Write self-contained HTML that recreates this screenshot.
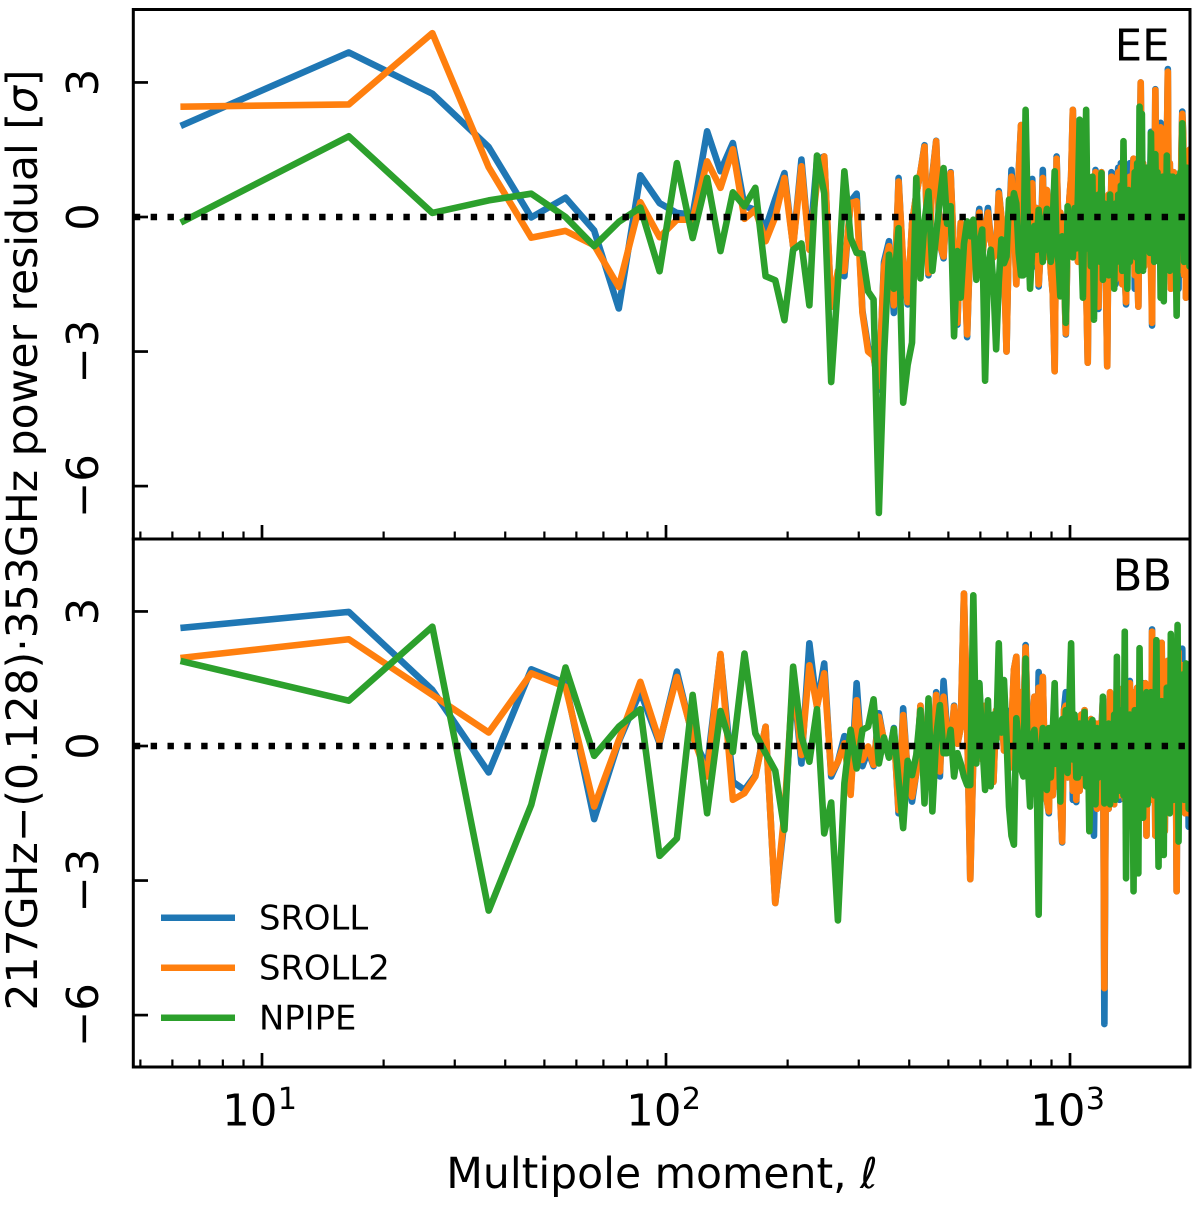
<!DOCTYPE html>
<html lang="en">
<head>
<meta charset="utf-8">
<title>217GHz power residual, EE and BB</title>
<style>
html,body{margin:0;padding:0;background:#fff;}
svg{display:block;font-family:"DejaVu Sans","Liberation Sans",sans-serif;}
</style>
</head>
<body>
<svg id="chart" xmlns="http://www.w3.org/2000/svg" width="1200" height="1212" viewBox="0 0 1200 1212">
<defs>
<clipPath id="clip-ee"><rect x="133" y="9" width="1057" height="530"/></clipPath>
<clipPath id="clip-bb"><rect x="133" y="539" width="1057" height="528"/></clipPath>
</defs>
<rect x="0" y="0" width="1200" height="1212" fill="#fff"/>
<g id="plot-ee"></g>
<g id="plot-bb"></g>
<g id="ticks"></g>
<g fill="none" stroke="#000" stroke-width="3">
<rect x="133.3" y="9.5" width="1056.7" height="529.5"/>
<rect x="133.3" y="539" width="1056.7" height="528"/>
</g>
<text x="1169.5" y="60.7" text-anchor="end" font-size="43.3">EE</text>
<text x="1172" y="590.7" text-anchor="end" font-size="43.3">BB</text>
<text transform="translate(37,540) rotate(-90)" text-anchor="middle" font-size="42.5">217GHz−(0.128)·353GHz power residual [<tspan font-style="italic">σ</tspan>]</text>
<text x="662" y="1188" text-anchor="middle" font-size="42.5">Multipole moment, <tspan font-style="italic">ℓ</tspan></text>
<g>
<line x1="161" x2="235" y1="917.7" y2="917.7" stroke="#1f77b4" stroke-width="6.5"/>
<text x="259" y="929.5" font-size="33.8">SROLL</text>
<line x1="161" x2="235" y1="967.7" y2="967.7" stroke="#ff7f0e" stroke-width="6.5"/>
<text x="259" y="979.5" font-size="33.8">SROLL2</text>
<line x1="161" x2="235" y1="1017.7" y2="1017.7" stroke="#2ca02c" stroke-width="6.5"/>
<text x="259" y="1029.5" font-size="33.8">NPIPE</text>
</g>
</svg>
<script>
const multipoles = [6.4,16.4,26.4,36.4,46.4,56.4,66.4,76.4,86.4,96.4,
106.4,116.4,126.4,136.4,146.4,156.4,166.4,176.4,186.4,196.4,
206.4,216.4,226.4,236.4,246.4,256.4,266.4,276.4,286.4,296.4,
306.4,316.4,326.4,336.4,346.4,356.4,366.4,376.4,386.4,396.4,
406.4,416.4,426.4,436.4,446.4,456.4,466.4,476.4,486.4,496.4,
506.4,516.4,526.4,536.4,546.4,556.4,566.4,576.4,586.4,596.4,
606.4,616.4,626.4,636.4,646.4,656.4,666.4,676.4,686.4,696.4,
706.4,716.4,726.4,736.4,746.4,756.4,766.4,776.4,786.4,796.4,
806.4,816.4,826.4,836.4,846.4,856.4,866.4,876.4,886.4,896.4,
906.4,916.4,926.4,936.4,946.4,956.4,966.4,976.4,986.4,996.4,
1006.4,1016.4,1026.4,1036.4,1046.4,1056.4,1066.4,1076.4,1086.4,1096.4,
1106.4,1116.4,1126.4,1136.4,1146.4,1156.4,1166.4,1176.4,1186.4,1196.4,
1206.4,1216.4,1226.4,1236.4,1246.4,1256.4,1266.4,1276.4,1286.4,1296.4,
1306.4,1316.4,1326.4,1336.4,1346.4,1356.4,1366.4,1376.4,1386.4,1396.4,
1406.4,1416.4,1426.4,1436.4,1446.4,1456.4,1466.4,1476.4,1486.4,1496.4,
1506.4,1516.4,1526.4,1536.4,1546.4,1556.4,1566.4,1576.4,1586.4,1596.4,
1606.4,1616.4,1626.4,1636.4,1646.4,1656.4,1666.4,1676.4,1686.4,1696.4,
1706.4,1716.4,1726.4,1736.4,1746.4,1756.4,1766.4,1776.4,1786.4,1796.4,
1806.4,1816.4,1826.4,1836.4,1846.4,1856.4,1866.4,1876.4,1886.4,1896.4,
1906.4,1916.4,1926.4,1936.4,1946.4,1956.4,1966.4,1976.4,1986.4,1996.4];

const eeSroll = [2.06,3.67,2.75,1.56,-0.01,0.43,-0.3,-2.04,0.93,0.31,
0.09,0.05,1.91,1.02,1.65,0.24,0.16,-0.25,0.4,0.98,
-0.65,1.28,-0.73,1.28,1.35,-2.0,-1.25,-1.32,0.35,0.52,
-2.1,-2.9,-3.1,-3.85,-1.0,-0.54,-2.14,0.87,-1.1,-1.95,
-0.15,0.5,1.0,1.6,-1.3,0.95,1.7,-0.6,-0.92,0.5,
1.0,-0.9,-2.4,-0.13,-0.7,-2.68,-0.5,-0.58,-0.36,0.18,
-0.9,-0.3,0.2,-0.5,-0.9,-0.8,0.58,0,-0.9,-3.0,
-0.2,1.05,0.1,-1.5,1.0,2.05,-0.3,-0.8,0.8,-0.7,
0.85,-1.1,0.2,-1.55,-0.7,1.05,-0.9,0.6,-0.3,-1.2,
-1.7,-3.44,1.35,-0.3,0.1,-0.9,-1.2,-2.62,-0.5,0.4,
0.9,2.39,-0.5,0.7,-1.0,1.25,-0.4,-1.3,0.6,-1.5,
-3.25,0.3,-1.0,0.8,-0.8,1.05,-0.9,-2.05,0.4,1.0,
-0.7,0.2,-1.3,-3.33,0.5,-0.9,1.0,-1.1,0.8,-1.5,
0.7,1.1,-0.8,1.2,-1.5,0.4,-1.2,-1.95,0.6,-0.9,
1.2,-0.7,0.5,1.3,-1.6,0.8,-1.0,-2.0,0.7,3.0,
0.2,1.2,-1.1,0.7,-0.5,1.1,-0.9,0.4,1.9,-2.42,
1.5,-0.4,2.85,0.2,-0.9,1.3,1.0,2.1,-0.5,1.1,
-1.5,0.8,-0.6,1.6,3.3,-0.4,1.2,-1.6,0.5,-1.0,
1.0,-0.7,0.9,-1.4,0.6,-1.6,0.9,-0.8,1.4,2.35,
1.8,-1.3,0.7,-1.8,1.0,-0.9,0.6,1.5,-0.5,0.8];

const eeSroll2 = [2.46,2.51,4.10,1.11,-0.46,-0.31,-0.63,-1.56,0.33,-0.45,
-0.06,-0.06,1.24,0.65,1.51,-0.04,0.16,-0.54,0,0.87,
-0.65,1.13,-0.73,0.76,1.35,-2.0,-1.2,-1.2,0.31,0.35,
-2.14,-3.0,-3.1,-3.77,-1.1,-0.65,-1.97,0.79,-1.0,-1.9,
-0.15,0.5,1.0,1.57,-1.25,0.9,1.69,-0.6,-0.88,0.5,
0.98,-0.9,-2.36,-0.13,-0.7,-2.62,-0.5,-0.6,-0.4,0.1,
-0.9,-0.3,0.1,-0.5,-0.9,-0.8,0.53,0,-0.9,-3.0,
-0.2,0.9,0.1,-1.5,0.95,2.05,-0.3,-0.8,0.5,-0.7,
0.75,-1.0,0.2,-1.5,-0.7,0.87,-0.9,0.6,-0.3,-1.2,
-1.7,-3.44,1.3,-0.3,0.1,-0.9,-1.2,-2.6,-0.5,0.4,
0.9,2.39,-0.5,0.7,-1.0,1.2,-0.4,-1.3,0.6,-1.5,
-3.25,0.3,-1.0,0.8,-0.8,1.0,-0.9,-2.0,0.4,1.0,
-0.6,0.2,-1.2,-3.33,0.5,-0.9,0.9,-1.1,0.8,-1.4,
0.7,1.0,-0.8,1.1,-1.5,0.4,-1.2,-1.9,0.6,-0.9,
0.9,-0.7,0.5,1.3,-1.3,0.8,-1.0,-2.0,0.7,3.0,
0.2,1.2,-1.1,0.7,-0.5,1.1,-0.9,0.4,-1.2,-2.36,
1.5,-0.4,2.83,0.2,-0.9,1.3,1.0,2.0,-0.5,1.1,
-1.4,0.8,-0.6,1.6,3.24,-0.4,1.2,-1.6,0.5,-1.0,
1.0,-0.7,0.9,-1.3,0.6,-1.2,0.9,-0.8,1.4,2.3,
1.8,-1.3,0.7,-1.8,1.0,-0.9,0.6,1.5,-0.5,0.8];

const eeNpipe = [-0.09,1.80,0.09,0.37,0.52,0,-0.65,-0.11,0.21,-1.21,
1.2,-0.47,0.87,-0.76,0.55,0.24,0.65,-1.32,-1.41,-2.3,
-0.73,-0.59,-1.97,1.37,0.53,-3.68,-1.47,1.02,-0.47,-0.8,
-0.82,-1.66,-1.84,-6.6,-3.1,-0.84,-1.6,-0.25,-4.14,-3.3,
-2.8,0.87,-1.37,-0.1,0.57,-1.2,-0.4,0.4,1.09,-0.15,
0.24,-2.66,-0.76,-1.8,-0.6,-0.1,-0.43,-0.06,-1.4,-0.6,
-0.28,-3.65,-1.1,-0.73,-1.5,-2.95,-1.45,-0.5,-1.03,-0.88,
0.39,0.1,0.53,0.3,-0.8,-1.3,-1.3,2.39,-0.2,-1.6,
-0.7,-0.2,-0.73,0.16,-0.3,-1.0,-0.2,0.18,-0.5,-1.0,
-0.1,1.02,-0.73,-1.0,-1.77,-0.43,-1.2,-2.36,0.24,-0.3,
-0.4,-0.9,0.2,-0.7,0.5,2.17,-0.6,-1.8,0.6,2.39,
-0.7,0.3,-1.1,0.9,-2.29,0.4,-0.8,0.5,-1.0,0.98,
-1.4,0.3,-0.9,0.1,-1.3,0.5,-1.1,-0.2,-1.6,0.3,
-1.0,0.5,-0.9,0.7,-1.2,1.69,-0.5,0.4,-1.6,0.6,
-1.0,0.5,-0.7,0.3,1.0,-0.9,1.2,-1.2,2.46,0.1,
2.3,-1.2,0.6,-0.7,1.1,-0.4,0.7,-0.8,1.87,-0.3,
0.9,-1.0,1.4,-0.2,1.0,-0.7,0.4,-1.8,-0.5,0.9,
-1.88,0.8,-0.5,1.37,0.2,0.9,-1.2,0.9,-0.3,0.9,
-0.8,0.5,-0.6,-2.2,-0.4,0.9,-0.3,1.0,0.2,2.09,
1.2,-1.0,0.6,-0.8,1.1,-0.5,0.7,-1.1,0.9,-0.4];

const bbSroll = [2.64,2.99,1.25,-0.59,1.71,1.40,-1.63,0.1,1.21,0.06,
1.66,0.2,-0.46,2.03,-0.8,-0.98,-0.65,0.43,-3.5,-1.65,
1.5,-0.39,2.29,0.88,1.84,-0.68,-0.35,0.22,-1.05,1.4,
-0.45,-0.1,-0.45,0.73,0.1,-0.24,0.4,-1.5,0.84,-0.6,
-1.24,-0.6,0.9,-0.9,0.2,-0.7,1.2,-0.68,1.45,0.3,
-0.1,0.9,0.05,0.4,3.4,0.5,-2.97,-0.2,0.4,1.4,
-0.3,0.9,-0.7,0.5,-0.8,0.8,0.2,1.0,-0.1,0.8,
-0.5,0.4,1.7,1.99,-0.3,1.2,0.5,2.25,0.3,-0.7,
0.4,1.1,-1.1,1.65,0.4,1.54,-0.5,-1.2,-1.5,0.3,
-1.1,1.0,-0.9,0.2,-1.2,-2.15,0.8,1.2,-0.7,0.8,
1.3,-1.2,0.6,-1.25,0.4,-1.0,0.7,-0.6,0.8,-0.9,
0.2,-1.3,0.6,-0.3,-2.0,0.5,-1.4,0.5,-0.9,0.4,
1.05,-6.2,-0.5,0.7,-1.4,1.2,-0.9,0.5,-1.3,0.9,
-0.7,0.8,-1.2,0.6,-0.4,1.3,-1.2,0.7,-0.9,0.4,
1.45,-1.1,0.6,-0.8,1.2,-0.3,1.3,-0.9,0.5,-1.0,
0.7,1.4,-0.8,1.4,-2.0,0.4,-1.0,0.5,-1.2,2.6,
-0.4,1.0,-2.0,0.6,-0.8,1.1,-1.3,0.5,2.3,-0.7,
1.2,-1.9,0.7,-0.9,1.9,-0.4,1.0,-1.3,0.9,-0.6,
1.0,-1.0,0.6,-3.24,0.8,2.1,-0.9,1.5,-0.6,2.17,
-0.5,1.3,-1.5,0.8,-0.9,1.0,-1.8,0.8,-0.9,0.5];

const bbSroll2 = [1.97,2.38,1.14,0.30,1.62,1.32,-1.35,0.13,1.43,0.1,
1.54,0.24,-0.68,2.05,-1.2,-1.05,-0.68,0.43,-3.5,-1.5,
1.54,-0.2,1.8,0.88,1.62,-0.61,-0.35,0.06,-1.09,1.02,
-0.31,-0.01,-0.42,0.65,0.13,-0.24,0.35,-1.43,0.69,-0.6,
-1.13,-0.6,0.9,-0.9,0.2,-0.7,1.14,-0.57,1.1,0.3,
-0.1,0.88,0.05,0.4,3.4,0.5,-2.97,-0.2,0.4,1.3,
-0.3,0.9,-0.6,0.5,-0.8,0.8,0.2,1.0,-0.1,0.6,
-0.5,0.4,1.7,1.99,-0.3,1.2,0.5,2.2,0.3,-0.7,
0.4,1.1,-1.1,1.3,0.4,1.54,-0.5,-1.2,-1.46,0.3,
-1.1,0.9,-0.9,0.2,-1.2,-2.13,0.8,0.9,-0.7,0.8,
1.3,-1.0,0.6,-1.2,0.4,-1.0,0.7,-0.6,0.8,-0.9,
0.2,-1.3,0.6,-0.3,-1.0,0.5,-1.4,0.5,-0.9,0.3,
1.05,-5.4,-0.5,0.7,-1.4,1.2,-0.9,0.5,-1.3,0.9,
-0.7,0.8,-1.1,0.6,-0.4,1.3,-1.2,0.7,-0.9,0.4,
1.4,-1.1,0.6,-0.8,1.2,-0.3,1.3,-0.9,0.5,-1.0,
0.7,1.3,-0.8,1.4,-2.0,0.4,-1.0,0.5,-1.2,2.55,
-0.4,1.0,-2.0,0.6,-0.8,1.1,-1.3,0.5,2.3,-0.7,
1.2,-1.9,0.7,-0.9,1.9,-0.4,1.0,-1.3,0.9,-0.6,
1.0,-1.0,0.6,-3.24,0.8,2.1,-0.9,1.5,-0.6,1.8,
-0.5,1.3,-1.5,0.8,-0.9,1.0,-1.5,0.8,-0.9,0.5];

const bbNpipe = [1.88,1.01,2.66,-3.67,-1.31,1.75,-0.22,0.43,0.82,-2.45,
-2.06,1.14,-1.5,0.78,-0.13,2.06,0.28,-0.16,-0.55,-1.87,
1.77,0.2,-0.35,0.82,-1.95,-1.26,-3.89,-0.83,0.36,-0.5,
0.36,0.43,1.04,-0.39,0.19,-0.26,0.38,-0.76,-1.83,-0.33,
-0.65,-0.2,0.8,-1.28,1.06,-1.46,0.2,0.91,-0.16,-0.16,
0.36,-0.68,-0.16,-0.39,-0.68,-0.87,-0.87,3.36,-0.39,1.4,
0.1,-0.98,1.02,-0.9,0.7,0.1,2.29,0.3,1.47,0.2,
-1.35,-2.0,-2.2,0.62,0.1,-0.5,-0.68,1.95,-0.4,-1.35,
0.2,0.36,-0.3,-3.76,-0.4,0.4,-0.6,-0.98,0.4,-0.7,
0.3,1.4,-0.4,0.5,-1.24,0.6,-0.2,0.8,-0.6,1.0,
2.29,-0.3,0.7,-0.7,-0.7,0.5,-0.6,0.2,0.76,-0.9,
0.5,-1.9,-0.4,0.58,-0.8,-1.3,0.4,-0.7,0.3,-0.5,
1.1,-1.28,0.3,-0.9,0.5,-1.3,0.4,-0.6,0.7,-1.2,
1.99,-1.0,0.8,-0.6,0.3,-1.1,2.55,-2.95,0.6,-1.0,
0.7,-1.2,0.3,-3.24,0.8,-1.0,0.5,-2.84,2.18,-0.7,
0.9,-1.6,0.4,-0.9,1.2,-1.3,0.7,-1.0,1.2,-0.9,
0.5,-1.1,0.4,2.36,-0.7,-2.69,0.8,-1.2,1.0,-0.6,
-2.43,0.8,-0.9,1.3,-0.5,0.9,-1.5,2.5,-0.7,0.8,
-1.2,1.0,-0.9,0.7,2.7,-2.13,0.6,-0.8,1.3,-0.5,
1.6,-1.2,0.5,1.84,-1.1,0.8,-1.4,0.6,1.0,-0.7];

const seriesNames = ['sroll','sroll2','npipe'];
const yTickValues = [3,0,-3,-6];
const yTickLabels = ['3','0','−3','−6'];
const xMajorValues = [10,100,1000];
const xMajorExponents = ['1','2','3'];
const xMinorValues = [5,6,7,8,9,20,30,40,50,60,70,80,90,200,300,400,500,600,700,800,900];

const NS = 'http://www.w3.org/2000/svg';
const seriesColors = ['#1f77b4','#ff7f0e','#2ca02c'];
function xScale(l){ return 262 + 404*Math.log10(l/10); }
function yScaleEE(v){ return 217 - 44.85*v; }
function yScaleBB(v){ return 746 - 44.85*v; }

function drawPanel(groupId, clipId, yScale, panelSeries, prefix){
  const g = document.getElementById(groupId);
  const clip = document.createElementNS(NS,'g');
  clip.setAttribute('clip-path','url(#'+clipId+')');
  
  
  panelSeries.forEach(function(vals,s){
    const pts = vals.map(function(v,i){ return xScale(multipoles[i]).toFixed(2)+','+yScale(v).toFixed(2); }).join(' ');
    const pl = document.createElementNS(NS,'polyline');
    pl.setAttribute('points',pts);
    pl.setAttribute('fill','none');
    pl.setAttribute('stroke',seriesColors[s]);
    pl.setAttribute('stroke-width','6.6');
    pl.setAttribute('stroke-linejoin','round');
    pl.setAttribute('stroke-linecap','square');
    
    
    clip.appendChild(pl);
  });
  const zero = document.createElementNS(NS,'line');
  zero.setAttribute('x1','133.8');
  zero.setAttribute('x2','1190');
  zero.setAttribute('y1',yScale(0));
  zero.setAttribute('y2',yScale(0));
  zero.setAttribute('stroke','#000');
  zero.setAttribute('stroke-width','6.4');
  zero.setAttribute('stroke-dasharray','6.4 10.45');
  
  
  clip.appendChild(zero);
  g.appendChild(clip);
}

function addTick(parent,x1,y1,x2,y2,w,name){
  const t = document.createElementNS(NS,'line');
  t.setAttribute('x1',x1);
  t.setAttribute('y1',y1);
  t.setAttribute('x2',x2);
  t.setAttribute('y2',y2);
  t.setAttribute('stroke','#000');
  t.setAttribute('stroke-width',w);
  
  
  parent.appendChild(t);
}

function addLabel(parent,x,y,size,str,anchor,rot,name){
  const t = document.createElementNS(NS,'text');
  if(rot){ t.setAttribute('transform','translate('+x+','+y+') rotate(-90)'); }
  else { t.setAttribute('x',x); t.setAttribute('y',y); }
  t.setAttribute('font-size',size);
  t.setAttribute('text-anchor',anchor);
  t.textContent = str;
  
  
  parent.appendChild(t);
}

drawPanel('plot-ee','clip-ee',yScaleEE,[eeSroll,eeSroll2,eeNpipe],'ee');
drawPanel('plot-bb','clip-bb',yScaleBB,[bbSroll,bbSroll2,bbNpipe],'bb');

const tg = document.getElementById('ticks');
[[539,'ee'],[1067,'bb']].forEach(function(p){
  xMajorValues.forEach(function(v){
    addTick(tg,xScale(v),p[0],xScale(v),p[0]-14,2.7,p[1]+'-x-major-tick');
  });
  xMinorValues.forEach(function(v){
    addTick(tg,xScale(v),p[0],xScale(v),p[0]-7.5,2.2,p[1]+'-x-minor-tick');
  });
});
yTickValues.forEach(function(v,i){
  addTick(tg,133,yScaleEE(v),148,yScaleEE(v),2.7,'ee-y-tick');
  addTick(tg,133,yScaleBB(v),148,yScaleBB(v),2.7,'bb-y-tick');
  addLabel(tg,98,yScaleEE(v),43.3,yTickLabels[i],'middle',true,'ee-y-tick-label');
  addLabel(tg,98,yScaleBB(v),43.3,yTickLabels[i],'middle',true,'bb-y-tick-label');
});
xMajorValues.forEach(function(v,i){
  const x = xScale(v);
  addLabel(tg,x-39.7,1125.7,43.3,'10','start',false,'x-tick-label');
  addLabel(tg,x+15.7,1109,30.3,xMajorExponents[i],'start',false,'x-tick-exponent');
});
</script>
</body>
</html>
